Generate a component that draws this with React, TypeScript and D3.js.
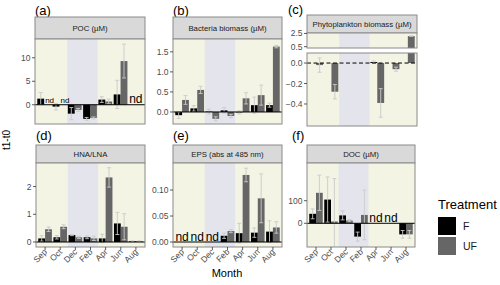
import React from "react";
import * as d3 from "d3";

type Val = number | null;

const months = ["Sep", "Oct", "Dec", "Feb", "Apr", "Jun", "Aug"];
const winterFrom = "Dec";
const winterTo = "Feb";

// (a) POC (µM)
const pocF: Val[] = [1.3, -0.4, -1.9, -3.0, 1.1, 2.2, null];
const pocFErr: Val[] = [1.3, 0.7, 1.3, 0.3, 0.6, 3.0, null];
const pocUF: Val[] = [null, null, -1.1, -2.8, 0.7, 9.3, null];
const pocUFErr: Val[] = [null, null, 0.3, 0.2, 0.5, 3.6, null];

// (b) Bacteria biomass (µM)
const bactF: Val[] = [-0.08, 0.09, 0.01, 0.04, -0.01, 0.17, 0.17];
const bactFErr: Val[] = [0.08, 0.07, 0.06, 0.07, 0.04, 0.2, 0.05];
const bactUF: Val[] = [0.3, 0.55, -0.17, -0.1, 0.34, 0.42, 1.63];
const bactUFErr: Val[] = [0.11, 0.09, 0.05, 0.04, 0.14, 0.25, 0.03];

// (c) Phytoplankton biomass (µM)
const phytoF: Val[] = [0, 0, 0, 0, 0.01, 0, 0];
const phytoFErr: Val[] = [0, 0, 0, 0, 0.01, 0, 0];
const phytoUF: Val[] = [-0.02, -0.28, 0, 0, -0.39, -0.06, 2.1];
const phytoUFErr: Val[] = [0.07, 0.07, 0, 0, 0.14, 0.02, 0.05];

// (d) HNA/LNA
const hnaF: Val[] = [0.13, 0.17, 0.25, 0.17, 0.13, 0.67, 0.03];
const hnaFErr: Val[] = [0.1, 0.06, 0.02, 0.05, 0.15, 0.4, 0.01];
const hnaUF: Val[] = [0.46, 0.55, 0.17, 0.13, 2.33, 0.55, 0.03];
const hnaUFErr: Val[] = [0.08, 0.07, 0.04, 0.08, 0.35, 0.47, 0.01];

// (e) EPS (abs at 485 nm)
const epsF: Val[] = [null, null, null, 0.012, 0.017, 0.018, 0.02];
const epsFErr: Val[] = [null, null, null, 0.005, 0.019, 0.009, 0.021];
const epsUF: Val[] = [null, null, null, 0.021, 0.129, 0.084, 0.028];
const epsUFErr: Val[] = [null, null, null, 0.003, 0.013, 0.047, 0.011];

// (f) DOC (µM)
const docF: Val[] = [42, 105, 35, -59, null, null, -49];
const docFErr: Val[] = [22, 100, 20, 20, null, null, 17];
const docUF: Val[] = [135, 8, 12, 37, null, null, -49];
const docUFErr: Val[] = [78, 190, 5, 110, null, null, 17];

const treatments = ["F", "UF"];
const treatColor = { F: "#000000", UF: "#666666" };

const FONT = "Liberation Sans, Arial, Helvetica, sans-serif";
const BG = "#f3f4e4";
const SHADE = "#e4e5ec";
const BORDER = "#8a8a8a";
const ERR = "#c9c9c9";

type Sub = {
  top: number;
  bottom: number;
  domain: [number, number];
  ticks: number[];
  fmt: (v: number) => string;
  zero?: "solid" | "dashed" | null;
};

type Spec = {
  id: string;
  tag: string;
  tagX: number;
  tagY: number;
  title: string;
  x0: number;
  x1: number;
  stripTop: number;
  stripBottom: number;
  subs: Sub[];
  f: Val[];
  fErr: Val[];
  uf: Val[];
  ufErr: Val[];
  showX: boolean;
};

const specs: Spec[] = [
  {
    id: "a", tag: "(a)", tagX: 35, tagY: 15, title: "POC (µM)", x0: 35, x1: 145,
    stripTop: 17, stripBottom: 39,
    subs: [{ top: 39, bottom: 124, domain: [-4.1, 14.0], ticks: [0, 5, 10], fmt: d3.format("d"), zero: "solid" }],
    f: pocF, fErr: pocFErr, uf: pocUF, ufErr: pocUFErr, showX: false,
  },
  {
    id: "b", tag: "(b)", tagX: 173, tagY: 15, title: "Bacteria biomass (µM)", x0: 173, x1: 282,
    stripTop: 17, stripBottom: 39,
    subs: [{ top: 39, bottom: 124, domain: [-0.3, 1.82], ticks: [0, 0.5, 1, 1.5], fmt: d3.format(".1f"), zero: "solid" }],
    f: bactF, fErr: bactFErr, uf: bactUF, ufErr: bactUFErr, showX: false,
  },
  {
    id: "c", tag: "(c)", tagX: 288, tagY: 14, title: "Phytoplankton biomass (µM)", x0: 307, x1: 417,
    stripTop: 15, stripBottom: 33,
    subs: [
      { top: 33, bottom: 48, domain: [0.3, 2.57], ticks: [0.5, 2.5], fmt: d3.format(".1f"), zero: null },
      { top: 53, bottom: 126, domain: [-0.615, 0.098], ticks: [-0.4, -0.2, 0], fmt: d3.format(".1f"), zero: "dashed" },
    ],
    f: phytoF, fErr: phytoFErr, uf: phytoUF, ufErr: phytoUFErr, showX: false,
  },
  {
    id: "d", tag: "(d)", tagX: 36, tagY: 140, title: "HNA/LNA", x0: 36, x1: 145,
    stripTop: 145, stripBottom: 163,
    subs: [{ top: 163, bottom: 247, domain: [-0.18, 2.85], ticks: [0, 1, 2], fmt: d3.format("d"), zero: "solid" }],
    f: hnaF, fErr: hnaFErr, uf: hnaUF, ufErr: hnaUFErr, showX: true,
  },
  {
    id: "e", tag: "(e)", tagX: 173, tagY: 140, title: "EPS (abs at 485 nm)", x0: 173, x1: 282,
    stripTop: 145, stripBottom: 163,
    subs: [{ top: 163, bottom: 247, domain: [-0.0096, 0.152], ticks: [0, 0.05, 0.1], fmt: d3.format(".2f"), zero: "solid" }],
    f: epsF, fErr: epsFErr, uf: epsUF, ufErr: epsUFErr, showX: true,
  },
  {
    id: "f", tag: "(f)", tagX: 292, tagY: 140, title: "DOC (µM)", x0: 307, x1: 415,
    stripTop: 145, stripBottom: 163,
    subs: [{ top: 163, bottom: 247, domain: [-105, 267], ticks: [0, 100], fmt: d3.format("d"), zero: "solid" }],
    f: docF, fErr: docFErr, uf: docUF, ufErr: docUFErr, showX: true,
  },
];

function Panel({ spec }: { spec: Spec }) {
  const x = d3.scalePoint<string>().domain(months).range([spec.x0, spec.x1]).padding(0.6);
  const step = x.step();
  const bw = step * 0.45;
  const cap = step * 0.13;
  const shadeX0 = (x(winterFrom) as number) - step / 2;
  const shadeX1 = (x(winterTo) as number) + step / 2;
  const lastSub = spec.subs[spec.subs.length - 1];
  const series = [
    { key: "F", vals: spec.f, errs: spec.fErr, off: -bw / 2 },
    { key: "UF", vals: spec.uf, errs: spec.ufErr, off: bw / 2 },
  ];

  return (
    <g>
      <text x={spec.tagX} y={spec.tagY} fontSize={13} fill="#000">{spec.tag}</text>
      <rect x={spec.x0} y={spec.stripTop} width={spec.x1 - spec.x0} height={spec.stripBottom - spec.stripTop}
        fill="#d9d9d9" stroke={BORDER} strokeWidth={1} />
      <text x={(spec.x0 + spec.x1) / 2} y={(spec.stripTop + spec.stripBottom) / 2 + 2.9} textAnchor="middle"
        fontSize={7.8} fill="#1a1a1a">{spec.title}</text>
      {spec.subs.map((sub, si) => {
        const y = d3.scaleLinear().domain(sub.domain).range([sub.bottom, sub.top]);
        const clipId = `clip-${spec.id}-${si}`;
        const y0 = y(0);
        return (
          <g key={si}>
            <clipPath id={clipId}>
              <rect x={spec.x0} y={sub.top} width={spec.x1 - spec.x0} height={sub.bottom - sub.top} />
            </clipPath>
            <rect x={spec.x0} y={sub.top} width={spec.x1 - spec.x0} height={sub.bottom - sub.top} fill={BG} />
            <rect x={shadeX0} y={sub.top} width={shadeX1 - shadeX0} height={sub.bottom - sub.top} fill={SHADE} />
            <g clipPath={`url(#${clipId})`}>
              {series.map((s) =>
                months.map((m, i) => {
                  const v = s.vals[i];
                  if (v == null) return null;
                  const cx = (x(m) as number) + s.off;
                  return (
                    <rect key={s.key + m} x={cx - bw / 2} width={bw} y={Math.min(y(v), y0)}
                      height={Math.abs(y(v) - y0)} fill={(treatColor as any)[s.key]} />
                  );
                })
              )}
              {series.map((s) =>
                months.map((m, i) => {
                  const v = s.vals[i];
                  const e = s.errs[i];
                  if (v == null || e == null || e === 0) return null;
                  const cx = (x(m) as number) + s.off;
                  const yt = y(v + e);
                  const yb = y(v - e);
                  return (
                    <g key={"e" + s.key + m} stroke={ERR} strokeWidth={0.9}>
                      <line x1={cx} x2={cx} y1={yt} y2={yb} />
                      <line x1={cx - cap} x2={cx + cap} y1={yt} y2={yt} />
                      <line x1={cx - cap} x2={cx + cap} y1={yb} y2={yb} />
                    </g>
                  );
                })
              )}
              {sub.zero && (
                <line x1={spec.x0} x2={spec.x1} y1={y0} y2={y0} stroke="#000" strokeWidth={1}
                  strokeDasharray={sub.zero === "dashed" ? "4,2.5" : undefined} />
              )}
            </g>
            {sub.zero &&
              months.map((m, i) => {
                const fMissing = spec.f[i] == null;
                const ufMissing = spec.uf[i] == null;
                if (fMissing && ufMissing)
                  return (
                    <text key={"nd" + m} x={x(m) as number} y={y0 - 1.5} textAnchor="middle" fontSize={12} fill="#000">nd</text>
                  );
                if (ufMissing)
                  return (
                    <text key={"nd" + m} x={(x(m) as number) + 1} y={y0 - 1.5} fontSize={8} fill="#000">nd</text>
                  );
                return null;
              })}
            <rect x={spec.x0} y={sub.top} width={spec.x1 - spec.x0} height={sub.bottom - sub.top}
              fill="none" stroke={BORDER} strokeWidth={1} />
            {sub.ticks.map((t) => (
              <g key={t}>
                <line x1={spec.x0 - 3} x2={spec.x0} y1={y(t)} y2={y(t)} stroke="#333" strokeWidth={0.8} />
                <text x={spec.x0 - 4.5} y={y(t) + 3} textAnchor="end" fontSize={8.5} fill="#4d4d4d">{sub.fmt(t)}</text>
              </g>
            ))}
          </g>
        );
      })}
      {spec.showX &&
        months.map((m) => (
          <g key={"x" + m}>
            <line x1={x(m) as number} x2={x(m) as number} y1={lastSub.bottom} y2={lastSub.bottom + 3}
              stroke="#333" strokeWidth={0.8} />
            <text transform={`translate(${(x(m) as number) + 2.5},${lastSub.bottom + 5.5}) rotate(-45)`}
              textAnchor="end" fontSize={8.5} fill="#4d4d4d">{m}</text>
          </g>
        ))}
    </g>
  );
}

export default function App() {
  return (
    <svg width={500} height={285} style={{ position: "absolute", left: 0, top: 0, background: "#fff" }}
      fontFamily={FONT}>
      {specs.map((s) => (
        <Panel key={s.id} spec={s} />
      ))}
      <text transform="translate(10,140) rotate(-90)" textAnchor="middle" fontSize={10} fill="#000">t1-t0</text>
      <text x={227} y={277} textAnchor="middle" fontSize={11} fill="#000">Month</text>
      <text x={438} y={209} fontSize={13} fill="#000">Treatment</text>
      {treatments.map((t, i) => (
        <g key={t}>
          <rect x={438} y={217 + i * 20} width={18} height={18} fill={(treatColor as any)[t]} />
          <text x={463} y={230 + i * 20} fontSize={10.5} fill="#1a1a1a">{t}</text>
        </g>
      ))}
    </svg>
  );
}
